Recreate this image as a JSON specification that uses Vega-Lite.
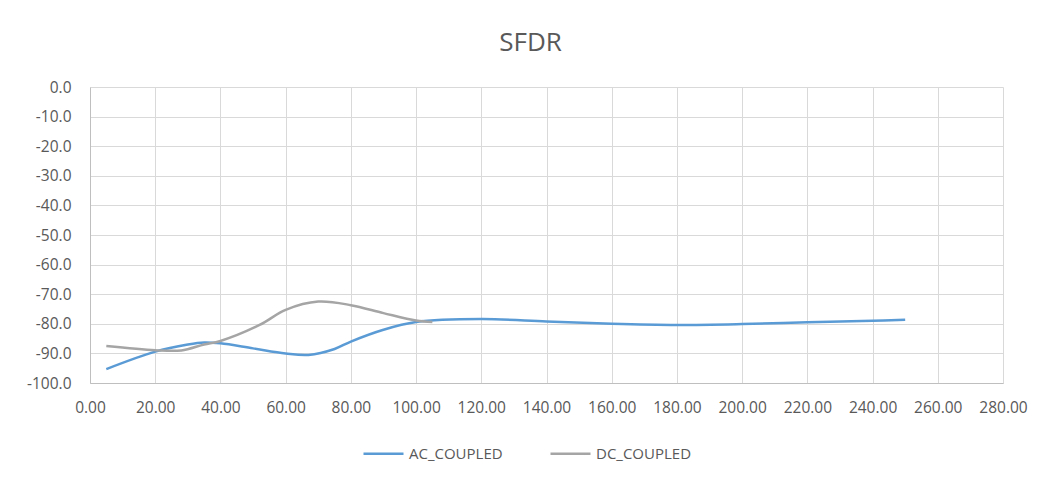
{
  "$schema": "https://vega.github.io/schema/vega-lite/v6.json",
  "width": 913,
  "height": 296,
  "autosize": {"type": "none"},
  "padding": {"left": 90, "top": 87, "right": 40, "bottom": 96},
  "background": "white",
  "title": {"text": "SFDR", "fontSize": 26, "font": "Open Sans", "fontWeight": "normal", "color": "#595959", "offset": 24, "dx": -16, "anchor": "middle"},
  "data": {"values": [
    {"series": "AC_COUPLED", "x": 5, "y": -95.3},
    {"series": "AC_COUPLED", "x": 20, "y": -89.4},
    {"series": "AC_COUPLED", "x": 30, "y": -87.0},
    {"series": "AC_COUPLED", "x": 35, "y": -86.3},
    {"series": "AC_COUPLED", "x": 40, "y": -86.6},
    {"series": "AC_COUPLED", "x": 50, "y": -88.3},
    {"series": "AC_COUPLED", "x": 60, "y": -90.0},
    {"series": "AC_COUPLED", "x": 67, "y": -90.5},
    {"series": "AC_COUPLED", "x": 75, "y": -88.5},
    {"series": "AC_COUPLED", "x": 80, "y": -86.0},
    {"series": "AC_COUPLED", "x": 90, "y": -82.0},
    {"series": "AC_COUPLED", "x": 100, "y": -79.4},
    {"series": "AC_COUPLED", "x": 120, "y": -78.4},
    {"series": "AC_COUPLED", "x": 140, "y": -79.2},
    {"series": "AC_COUPLED", "x": 160, "y": -80.0},
    {"series": "AC_COUPLED", "x": 180, "y": -80.4},
    {"series": "AC_COUPLED", "x": 200, "y": -80.1},
    {"series": "AC_COUPLED", "x": 220, "y": -79.5},
    {"series": "AC_COUPLED", "x": 240, "y": -79.0},
    {"series": "AC_COUPLED", "x": 250, "y": -78.6},
    {"series": "DC_COUPLED", "x": 5, "y": -87.5},
    {"series": "DC_COUPLED", "x": 20, "y": -88.9},
    {"series": "DC_COUPLED", "x": 28, "y": -89.0},
    {"series": "DC_COUPLED", "x": 35, "y": -87.0},
    {"series": "DC_COUPLED", "x": 40, "y": -85.8},
    {"series": "DC_COUPLED", "x": 52, "y": -80.4},
    {"series": "DC_COUPLED", "x": 60, "y": -75.3},
    {"series": "DC_COUPLED", "x": 70, "y": -72.5},
    {"series": "DC_COUPLED", "x": 80, "y": -73.7},
    {"series": "DC_COUPLED", "x": 90, "y": -76.4},
    {"series": "DC_COUPLED", "x": 100, "y": -78.9},
    {"series": "DC_COUPLED", "x": 105, "y": -79.4}
  ]},
  "mark": {"type": "line", "interpolate": "catmull-rom", "strokeWidth": 2.5},
  "encoding": {
    "x": {"field": "x", "type": "quantitative", "scale": {"domain": [0, 280], "nice": false},
      "axis": {"values": [0,20,40,60,80,100,120,140,160,180,200,220,240,260,280], "format": ".2f", "labelOverlap": false, "labelFlush": false, "labelBound": false, "title": null, "grid": true, "ticks": false, "labelPadding": 17, "domainColor": "#BFBFBF"}},
    "y": {"field": "y", "type": "quantitative", "scale": {"domain": [-100, 0], "nice": false},
      "axis": {"values": [-100,-90,-80,-70,-60,-50,-40,-30,-20,-10,0], "labelExpr": "replace(format(datum.value, '.1f'), '\u2212', '-')", "labelOverlap": false, "labelFlush": false, "title": null, "grid": true, "ticks": false, "labelPadding": 19, "domainColor": "#BFBFBF"}},
    "color": {"field": "series", "type": "nominal",
      "scale": {"domain": ["AC_COUPLED", "DC_COUPLED"], "range": ["#5B9BD5", "#A5A5A5"]},
      "legend": {"title": null, "orient": "none", "legendX": 272, "legendY": 345, "direction": "horizontal", "symbolType": "stroke", "symbolSize": 1600, "symbolStrokeWidth": 2.5, "columnPadding": 42, "labelFontSize": 15, "labelFont": "Open Sans", "labelColor": "#595959"}}
  },
  "config": {
    "view": {"stroke": null},
    "axis": {"gridColor": "#D9D9D9", "gridWidth": 1, "labelFont": "Open Sans", "labelFontSize": 15.5, "labelColor": "#595959"}
  }
}
